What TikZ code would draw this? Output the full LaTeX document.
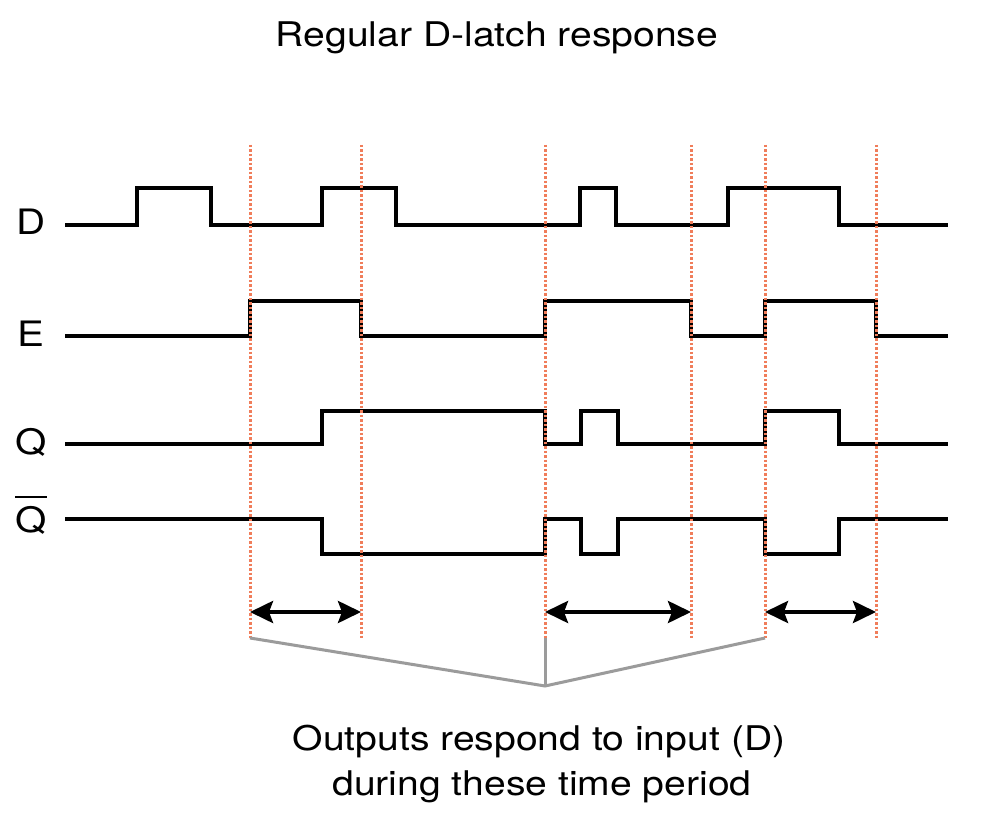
\documentclass[tikz,border=0pt]{standalone}
\usepackage{fontspec}
\usepackage{graphicx}
\setmainfont{TeX Gyre Heros}
\usetikzlibrary{arrows.meta}
\definecolor{tline}{RGB}{240,125,90}
\definecolor{brace}{RGB}{155,155,155}
\newcommand{\wtxt}[1]{\scalebox{1.15}[1]{#1}}
\begin{document}
\begin{tikzpicture}[x=1pt,y=-1pt,
  signal/.style={line width=4.5pt,line join=miter,black},
  timeline/.style={line width=3pt,tline,dash pattern=on 2.5pt off 2pt},
  dimarrow/.style={line width=4pt,{Stealth[length=23pt,width=22pt,inset=4pt]}-{Stealth[length=23pt,width=22pt,inset=4pt]}},
  bracket/.style={line width=3pt,brace,line join=miter},
  lbl/.style={inner sep=0pt,font=\fontsize{35}{42}\selectfont},
  txt/.style={inner sep=0pt,anchor=base,font=\fontsize{34}{40}\selectfont}]
\fill[white] (0,0) rectangle (986,826);
\useasboundingbox (0,0) rectangle (986,826);
% title
\node[txt] (title) at (497,47) {\wtxt{Regular D-latch response}};
% labels
\node[lbl] (lD) at (31,222) {\wtxt{D}};
\node[lbl] (lE) at (31,334) {\wtxt{E}};
\node[lbl] (lQ) at (31,442) {\wtxt{Q}};
\node[lbl,anchor=base] (lQb) at (31,532) {\wtxt{\vbox{\hrule height 2pt\kern 8pt\hbox{Q}}}};
% signals
\draw[signal] (65,225) -- (137,225) -- (137,188) -- (211,188) -- (211,225) -- (322,225) -- (322,188) -- (396,188) -- (396,225) -- (580,225) -- (580,188) -- (616,188) -- (616,225) -- (728,225) -- (728,188) -- (839,188) -- (839,225) -- (948,225);
\draw[signal] (65,336) -- (250,336) -- (250,301) -- (361,301) -- (361,336) -- (545,336) -- (545,301) -- (691,301) -- (691,336) -- (765,336) -- (765,301) -- (876,301) -- (876,336) -- (948,336);
\draw[signal] (65,444) -- (322,444) -- (322,411) -- (545,411) -- (545,444) -- (581,444) -- (581,411) -- (618,411) -- (618,444) -- (765,444) -- (765,411) -- (839,411) -- (839,444) -- (948,444);
\draw[signal] (65,519) -- (322,519) -- (322,554) -- (545,554) -- (545,519) -- (581,519) -- (581,554) -- (618,554) -- (618,519) -- (765,519) -- (765,554) -- (839,554) -- (839,519) -- (948,519);
% time lines
\foreach \n/\x in {1/250,2/361,3/545,4/691,5/765,6/876}{
  \coordinate (top\n) at (\x,145);
  \coordinate (bot\n) at (\x,638);
  \coordinate (arr\n) at (\x,612);
  \draw[timeline] (top\n) -- (bot\n);
}
% arrows
\draw[dimarrow] (arr1) -- (arr2);
\draw[dimarrow] (arr3) -- (arr4);
\draw[dimarrow] (arr5) -- (arr6);
% bracket
\coordinate (meet) at (545,686);
\draw[bracket] (bot1) -- (meet) -- (bot5);
\draw[bracket] (bot3) -- (meet);
% caption
\node[txt] (cap1) at (539,750) {\wtxt{Outputs respond to input (D)}};
\node[txt] (cap2) at (542,795) {\wtxt{during these time period}};
\end{tikzpicture}
\end{document}
